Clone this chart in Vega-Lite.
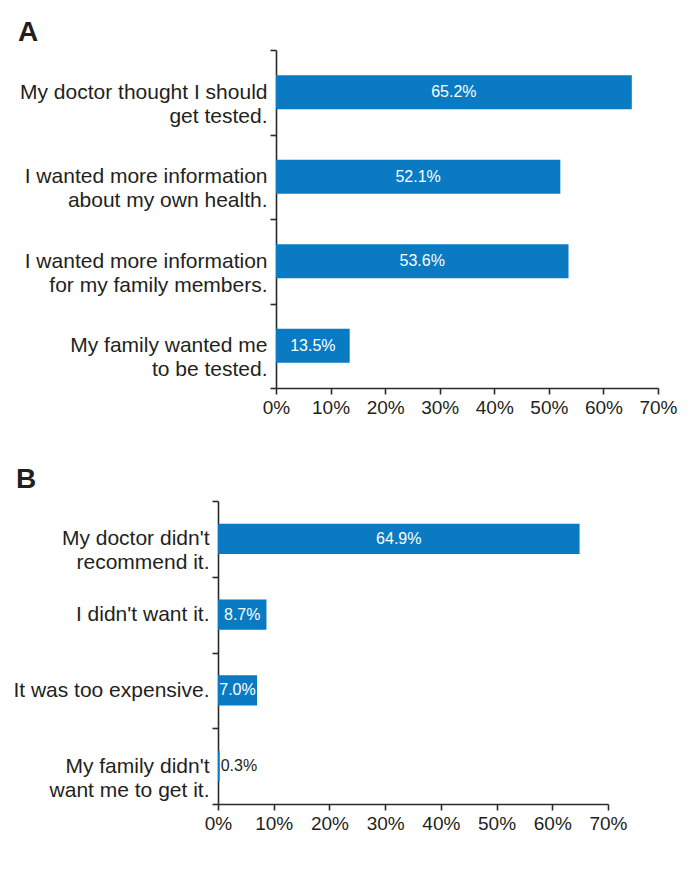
{
  "$schema": "https://vega.github.io/schema/vega-lite/v6.json",
  "background": "white",
  "padding": {"left": 12, "top": 19, "right": 14, "bottom": 20},
  "spacing": 49,
  "config": {
    "view": {"stroke": null},
    "font": "Liberation Sans",
    "axis": {
      "domainColor": "#2a2a2a",
      "tickColor": "#2a2a2a",
      "domainWidth": 1.6,
      "tickWidth": 1.6,
      "labelColor": "#231f20",
      "labelFont": "Liberation Sans",
      "grid": false
    },
    "title": {"font": "Liberation Sans", "fontSize": 28, "fontWeight": "bold", "color": "#231f20", "anchor": "start", "frame": "bounds"}
  },
  "vconcat": [
    {
      "title": {"text": "A", "offset": -8},
      "width": 440,
      "height": 338,
      "data": {"values": [
        {"reason": "My doctor thought I should\nget tested.", "pct": 0.652},
        {"reason": "I wanted more information\nabout my own health.", "pct": 0.521},
        {"reason": "I wanted more information\nfor my family members.", "pct": 0.536},
        {"reason": "My family wanted me\nto be tested.", "pct": 0.135}
      ]},
      "encoding": {
        "y": {
          "field": "reason", "type": "nominal", "sort": null,
          "scale": {"paddingInner": 0, "paddingOuter": 0},
          "axis": {
            "title": null, "tickBand": "extent", "tickSize": 6, "labelPadding": 3,
            "labelFontSize": 21, "labelLineHeight": 24, "labelLimit": 500,
            "labelExpr": "split(datum.label, '\\n')",
            "offset": -58,
            "minExtent": 258, "maxExtent": 258
          }
        }
      },
      "layer": [
        {
          "mark": {"type": "bar", "color": "#0a7bc2", "height": {"band": 0.4}},
          "encoding": {
            "x": {
              "field": "pct", "type": "quantitative",
              "scale": {"domain": [0, 0.7], "nice": false, "rangeMin": 58},
              "axis": {"title": null, "format": ".0%", "values": [0, 0.1, 0.2, 0.3, 0.4, 0.5, 0.6, 0.7], "labelOverlap": false, "labelFlush": false, "tickSize": 6, "labelPadding": 4, "labelFontSize": 19}
            }
          }
        },
        {
          "transform": [{"calculate": "datum.pct / 2", "as": "mid"}],
          "mark": {"type": "text", "color": "white", "fontSize": 16, "baseline": "middle"},
          "encoding": {
            "x": {"field": "mid", "type": "quantitative"},
            "text": {"field": "pct", "type": "quantitative", "format": ".1%"}
          }
        }
      ]
    },
    {
      "title": {"text": "B", "offset": -4, "dx": 3},
      "width": 390,
      "height": 303,
      "data": {"values": [
        {"reason": "My doctor didn't\nrecommend it.", "pct": 0.649},
        {"reason": "I didn't want it.", "pct": 0.087},
        {"reason": "It was too expensive.", "pct": 0.07},
        {"reason": "My family didn't\nwant me to get it.", "pct": 0.003}
      ]},
      "encoding": {
        "y": {
          "field": "reason", "type": "nominal", "sort": null,
          "scale": {"paddingInner": 0, "paddingOuter": 0},
          "axis": {
            "title": null, "tickBand": "extent", "tickSize": 6, "labelPadding": 3,
            "labelFontSize": 21, "labelLineHeight": 24, "labelLimit": 500,
            "labelExpr": "split(datum.label, '\\n')",
            "minExtent": 200, "maxExtent": 200
          }
        }
      },
      "layer": [
        {
          "mark": {"type": "bar", "color": "#0a7bc2", "height": {"band": 0.4}},
          "encoding": {
            "x": {
              "field": "pct", "type": "quantitative",
              "scale": {"domain": [0, 0.7], "nice": false},
              "axis": {"title": null, "format": ".0%", "values": [0, 0.1, 0.2, 0.3, 0.4, 0.5, 0.6, 0.7], "labelOverlap": false, "labelFlush": false, "tickSize": 6, "labelPadding": 4, "labelFontSize": 19}
            }
          }
        },
        {
          "transform": [{"filter": "datum.pct >= 0.01"}, {"calculate": "datum.pct / 2", "as": "mid"}],
          "mark": {"type": "text", "color": "white", "fontSize": 16, "baseline": "middle"},
          "encoding": {
            "x": {"field": "mid", "type": "quantitative"},
            "text": {"field": "pct", "type": "quantitative", "format": ".1%"}
          }
        },
        {
          "transform": [{"filter": "datum.pct < 0.01"}],
          "mark": {"type": "text", "color": "#231f20", "fontSize": 16, "baseline": "middle", "align": "left", "dx": 1},
          "encoding": {
            "x": {"field": "pct", "type": "quantitative"},
            "text": {"field": "pct", "type": "quantitative", "format": ".1%"}
          }
        }
      ]
    }
  ]
}
